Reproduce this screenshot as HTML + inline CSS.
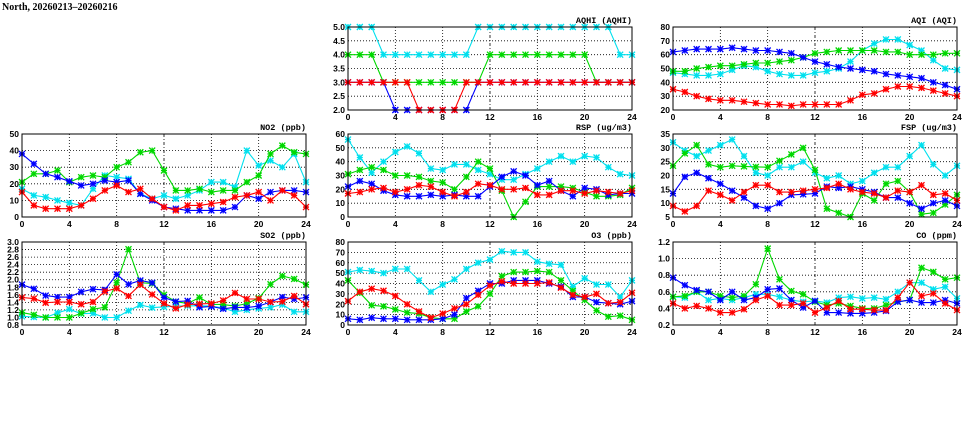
<!DOCTYPE html>
<html><head><meta charset="utf-8">
<style>
html,body{margin:0;padding:0;background:#fff;}
svg{display:block;font-family:"Liberation Sans",sans-serif;}
</style></head>
<body>
<svg id="c" width="975" height="447" viewBox="0 0 975 447">
<text x="2" y="10" font-size="10" font-weight="bold" font-family="Liberation Serif, serif">North, 20260213–20260216</text>
</svg>
<script>
const hours = [0,1,2,3,4,5,6,7,8,9,10,11,12,13,14,15,16,17,18,19,20,21,22,23,24];
const xTicks = [0,4,8,12,16,20,24];
const seriesOrder = ["cyan","green","blue","red"];

const aqhiTicks = [2.0,2.5,3.0,3.5,4.0,4.5,5.0];
const aqhiCyan  = [5,5,5,4,4,4,4,4,4,4,4,5,5,5,5,5,5,5,5,5,5,5,5,4,4];
const aqhiGreen = [4,4,4,3,3,3,3,3,3,3,3,3,4,4,4,4,4,4,4,4,4,3,3,3,3];
const aqhiBlue  = [3,3,3,3,2,2,2,2,2,2,2,3,3,3,3,3,3,3,3,3,3,3,3,3,3];
const aqhiRed   = [3,3,3,3,3,3,2,2,2,2,3,3,3,3,3,3,3,3,3,3,3,3,3,3,3];

const aqiTicks = [20,30,40,50,60,70,80];
const aqiCyan  = [47,46,45,45,46,49,52,51,48,46,45,45,47,48,50,55,63,68,71,71,67,63,56,50,49];
const aqiGreen = [48,48,50,51,52,52,53,54,54,55,56,58,61,62,63,63,63,63,62,62,60,60,60,61,61];
const aqiBlue  = [62,63,64,64,64,65,64,63,63,62,61,58,55,53,51,50,49,48,46,45,44,43,40,38,35];
const aqiRed   = [35,33,30,28,27,27,26,25,24,24,23,24,24,24,24,27,31,32,35,37,37,36,34,32,30];

const no2Ticks = [0,10,20,30,40,50];
const no2Cyan  = [17,13,12,10,8.5,7,17,25,24,23,14,11,13,11,13,16,21,21,18,40,31,34,30,38,21];
const no2Green = [21,26,26,28,21,24,25,24,30,33,39,40,28,16,16,17,15,16,16,21,25,38,43,39,38];
const no2Blue  = [38,32,26,24,21.5,19,20,22,21,22,14,10,6,5,4,4,4,4,6,13,11,15,16,16,15];
const no2Red   = [15,7,5,5,5,7,11,16,19,15,17,11,6,4,7,7,8,9,12,13,15,10,16,13,6];

const rspTicks = [0,10,20,30,40,50,60];
const rspCyan  = [56,43,32,40,47,51,46,35,34,38,38,34,31,27,27,31,35,40,44,40,44,43,36,31,30];
const rspGreen = [31,34,36,34,30,30,29,26,25,20,29,40,35,19,0,11,22,22,22,21,18,15,15,16,21];
const rspBlue  = [22,26,24,19,16,15,15,16,15,16,15,15,22,29,33,30,23,26,19,15,21,20,16,17,17];
const rspRed   = [17,18,20,21,18,20,23,22,18,15,18,24,23,20,20,21,16,16,19,19,17,19,18,17,19];

const fspTicks = [5,10,15,20,25,30,35];
const fspCyan  = [32,29,27,29,31,33,27,21,20,23,23,25,21,19,20,17,18,21,23,23,27,31,24,20,23.5];
const fspGreen = [23.5,28,31,24,23,23.5,23.3,23.1,23,25.3,27.6,30,22,8,6.5,5,13.5,11,17,18,14,6,6.5,9.5,13];
const fspBlue  = [13.5,19.5,21,19,17,14.5,12,9,8,10,13,13.2,13.5,16,15.5,16,15,14,12,12,10,8,10,11,9];
const fspRed   = [9,7,9,14.5,13,11,14,16.5,16.5,14,14,14.5,15,15.5,17,15,14,13.5,12,14.5,14,16.5,13,13.5,11];

const so2Ticks = [0.8,1.0,1.2,1.4,1.6,1.8,2.0,2.2,2.4,2.6,2.8,3.0];
const so2Cyan  = [1.03,1.01,1.0,1.12,1.22,1.10,1.11,1.0,1.0,1.18,1.33,1.26,1.28,1.30,1.31,1.31,1.30,1.25,1.15,1.20,1.24,1.27,1.34,1.15,1.15];
const so2Green = [1.13,1.07,1.0,1.0,1.0,1.11,1.22,1.27,1.92,2.81,1.92,1.90,1.60,1.42,1.37,1.53,1.35,1.34,1.30,1.37,1.51,1.88,2.10,2.02,1.87];
const so2Blue  = [1.87,1.76,1.58,1.54,1.54,1.68,1.75,1.73,2.14,1.88,1.98,1.92,1.53,1.42,1.44,1.27,1.29,1.23,1.27,1.26,1.30,1.41,1.54,1.49,1.53];
const so2Red   = [1.53,1.50,1.39,1.41,1.41,1.35,1.41,1.69,1.77,1.57,1.87,1.61,1.37,1.24,1.34,1.36,1.37,1.45,1.65,1.49,1.49,1.41,1.42,1.57,1.35];

const o3Ticks = [0,10,20,30,40,50,60,70,80];
const o3Cyan  = [51,53,52,50,54,54,43,32,39,44,54,60,63,71,70,70,61,59,58,37,45,39,39,27,43];
const o3Green = [43,31,19,18,15,12,11,7,6,6,13,18,30,47,51,51,52,51,43,33,24,14,8,9,5];
const o3Blue  = [6,5,7,6,6,5,5,5,6,10,26,33,40,40,43,43,43,40,37,27,27,22,21,20,23];
const o3Red   = [23,32,35,33,28,20,13,7,11,16,20,29,38,42,40,40,40,41,36,29,27,30,21,22,31];

const coTicks = [0.2,0.4,0.6,0.8,1.0,1.2];
const coCyan  = [0.54,0.53,0.60,0.50,0.52,0.50,0.53,0.57,0.57,0.54,0.50,0.48,0.49,0.47,0.53,0.54,0.52,0.53,0.51,0.60,0.71,0.71,0.63,0.66,0.52];
const coGreen = [0.54,0.55,0.60,0.60,0.55,0.53,0.55,0.69,1.12,0.75,0.61,0.57,0.48,0.44,0.46,0.43,0.40,0.40,0.44,0.48,0.50,0.89,0.84,0.75,0.77];
const coBlue  = [0.77,0.68,0.62,0.60,0.50,0.60,0.50,0.53,0.63,0.64,0.50,0.41,0.49,0.35,0.35,0.34,0.34,0.35,0.37,0.48,0.50,0.47,0.47,0.50,0.46];
const coRed   = [0.46,0.40,0.43,0.40,0.35,0.35,0.39,0.50,0.55,0.44,0.44,0.46,0.35,0.41,0.49,0.39,0.39,0.38,0.38,0.53,0.71,0.55,0.58,0.46,0.38];

const COLORS = {cyan:"#00e0ee", green:"#00d800", blue:"#0000ff", red:"#ff0000"};
const NS = "http://www.w3.org/2000/svg";
const svg = document.getElementById("c");

function mk(tag, attrs, parent){
  const e = document.createElementNS(NS, tag);
  for (const k in attrs) e.setAttribute(k, attrs[k]);
  (parent||svg).appendChild(e);
  return e;
}

const panels = [
  {key:"aqhi", title:"AQHI (AQHI)", col:1, row:0, ticks:aqhiTicks, dec:1, s:{cyan:aqhiCyan,green:aqhiGreen,blue:aqhiBlue,red:aqhiRed}},
  {key:"aqi", title:"AQI (AQI)", col:2, row:0, ticks:aqiTicks, dec:0, s:{cyan:aqiCyan,green:aqiGreen,blue:aqiBlue,red:aqiRed}},
  {key:"no2", title:"NO2 (ppb)", col:0, row:1, ticks:no2Ticks, dec:0, s:{cyan:no2Cyan,green:no2Green,blue:no2Blue,red:no2Red}},
  {key:"rsp", title:"RSP (ug/m3)", col:1, row:1, ticks:rspTicks, dec:0, s:{cyan:rspCyan,green:rspGreen,blue:rspBlue,red:rspRed}},
  {key:"fsp", title:"FSP (ug/m3)", col:2, row:1, ticks:fspTicks, dec:0, s:{cyan:fspCyan,green:fspGreen,blue:fspBlue,red:fspRed}},
  {key:"so2", title:"SO2 (ppb)", col:0, row:2, ticks:so2Ticks, dec:1, s:{cyan:so2Cyan,green:so2Green,blue:so2Blue,red:so2Red}},
  {key:"o3", title:"O3 (ppb)", col:1, row:2, ticks:o3Ticks, dec:0, s:{cyan:o3Cyan,green:o3Green,blue:o3Blue,red:o3Red}},
  {key:"co", title:"CO (ppm)", col:2, row:2, ticks:coTicks, dec:1, s:{cyan:coCyan,green:coGreen,blue:coBlue,red:coRed}}
];
const colLeft = [22, 348, 673];
const rowTop = [27, 134, 242];
const W = 284, H = 83;

panels.forEach(p => {
  const L = colLeft[p.col], T = rowTop[p.row];
  const g = mk("g", {});
  
  
  const ymin = p.ticks[0], ymax = p.ticks[p.ticks.length-1];
  const xs = h => L + h / 24 * W;
  const ys = v => T + H - (v - ymin) / (ymax - ymin) * H;

  // horizontal grid
  p.ticks.forEach((t, i) => {
    const y = ys(t);
    if (i > 0 && i < p.ticks.length-1) {
      const gl = mk("line", {x1:L, x2:L+W, y1:y, y2:y, stroke:"#000", "stroke-width":0.8, "stroke-dasharray":"1,2"}, g);
      
      
    }
    const tl = mk("text", {x:L-3, y:y+3, "font-size":"8.5", "font-weight":"bold", "text-anchor":"end"}, g);
    
    
    tl.textContent = t.toFixed(p.dec);
  });
  // vertical grid & x labels
  xTicks.forEach((h, i) => {
    const x = xs(h);
    if (i > 0 && i < xTicks.length-1) {
      const vl = mk("line", {x1:x, x2:x, y1:T, y2:T+H, stroke:"#000", "stroke-width":0.8, "stroke-dasharray": h===12 ? "3,2,1,2" : "1,2"}, g);
      
      
    }
    const xl = mk("text", {x:x, y:T+H+10, "font-size":"8.5", "font-weight":"bold", "text-anchor":"middle"}, g);
    
    
    xl.textContent = h;
  });
  // title
  const tt = mk("text", {x:L+W, y:T-4, "font-size":"8.5", "font-weight":"bold", "text-anchor":"end", "font-family":"Liberation Mono, monospace"}, g);
  
  
  tt.textContent = p.title;

  // series
  const clip = mk("clipPath", {id:"clip-"+p.key}, g);
  mk("rect", {x:L-4, y:T-4, width:W+8, height:H+8}, clip);
  seriesOrder.forEach(name => {
    const vals = p.s[name], col = COLORS[name];
    const sg = mk("g", {"clip-path":"url(#clip-"+p.key+")"}, g);
    
    
    const pts = vals.map((v,i) => xs(hours[i]).toFixed(1) + "," + ys(v).toFixed(1)).join(" ");
    const pl = mk("polyline", {points:pts, fill:"none", stroke:col, "stroke-width":1.1}, sg);
    
    
    vals.forEach((v,i) => {
      const x = xs(hours[i]), y = ys(v), r = 3;
      const m = mk("path", {d:`M${x-r},${y-r}L${x+r},${y+r}M${x-r},${y+r}L${x+r},${y-r}M${x-r},${y}L${x+r},${y}M${x},${y-r}L${x},${y+r}`, stroke:col, "stroke-width":1.3, fill:"none"}, sg);
      
      
    });
  });
  // frame
  const fr = mk("rect", {x:L, y:T, width:W, height:H, fill:"none", stroke:"#000", "stroke-width":1}, g);
  
  
});
</script>
</body></html>
